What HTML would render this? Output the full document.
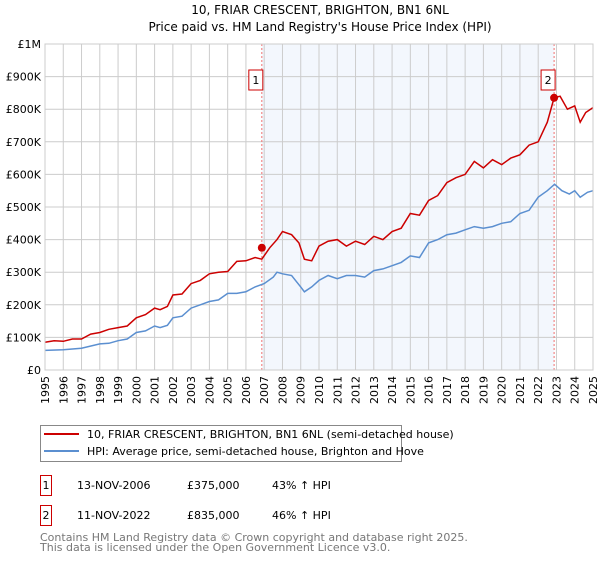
<!DOCTYPE html>
<html><head><meta charset="utf-8"><style>
body{margin:0;background:#fff;font-family:"DejaVu Sans","Liberation Sans",sans-serif;}
svg text{font-family:"DejaVu Sans","Liberation Sans",sans-serif;}
</style></head><body>
<svg id="c" width="600" height="560">
<text x="320" y="14" text-anchor="middle" font-size="12">10, FRIAR CRESCENT, BRIGHTON, BN1 6NL</text>
<text x="320" y="31" text-anchor="middle" font-size="12">Price paid vs. HM Land Registry's House Price Index (HPI)</text>
<g id="plot"></g>
<rect x="40.5" y="425.5" width="361" height="36" fill="none" stroke="#888"/>
<line x1="44" y1="434" x2="79" y2="434" stroke="#cc0000" stroke-width="2"/>
<text x="87" y="438" font-size="11">10, FRIAR CRESCENT, BRIGHTON, BN1 6NL (semi-detached house)</text>
<line x1="44" y1="451" x2="79" y2="451" stroke="#5b8fd0" stroke-width="2"/>
<text x="87" y="455" font-size="11">HPI: Average price, semi-detached house, Brighton and Hove</text>
<g font-size="11">
<rect x="40.5" y="475.5" width="11" height="20" fill="#fff" stroke="#cc0000"/>
<text x="46" y="489" text-anchor="middle">1</text>
<text x="77" y="489">13-NOV-2006</text><text x="187" y="489">£375,000</text><text x="272" y="489">43% ↑ HPI</text>
<rect x="40.5" y="505.5" width="11" height="20" fill="#fff" stroke="#cc0000"/>
<text x="46" y="519" text-anchor="middle">2</text>
<text x="77" y="519">11-NOV-2022</text><text x="187" y="519">£835,000</text><text x="272" y="519">46% ↑ HPI</text>
</g>
<text x="40" y="541" font-size="11" fill="#777">Contains HM Land Registry data © Crown copyright and database right 2025.</text>
<text x="40" y="551" font-size="11" fill="#777">This data is licensed under the Open Government Licence v3.0.</text>
</svg>
<script>
const yTicks=[0,100,200,300,400,500,600,700,800,900,1000];
const yTickLabels=["£0","£100K","£200K","£300K","£400K","£500K","£600K","£700K","£800K","£900K","£1M"];
const years=[1995,1996,1997,1998,1999,2000,2001,2002,2003,2004,2005,2006,2007,2008,2009,2010,2011,2012,2013,2014,2015,2016,2017,2018,2019,2020,2021,2022,2023,2024,2025];
const redX=[1995,1995.5,1996,1996.5,1997,1997.5,1998,1998.5,1999,1999.5,2000,2000.5,2001,2001.3,2001.7,2002,2002.5,2003,2003.5,2004,2004.5,2005,2005.5,2006,2006.5,2006.87,2007.3,2007.7,2008,2008.5,2008.9,2009.2,2009.6,2010,2010.5,2011,2011.5,2012,2012.5,2013,2013.5,2014,2014.5,2015,2015.5,2016,2016.5,2017,2017.5,2018,2018.5,2019,2019.5,2020,2020.5,2021,2021.5,2022,2022.5,2022.87,2023.2,2023.6,2024,2024.3,2024.6,2025];
const redY=[85,90,88,95,95,110,115,125,130,135,160,170,190,185,195,230,233,265,275,295,300,302,333,335,345,340,375,400,425,415,390,340,335,380,395,400,380,395,385,410,400,425,435,480,475,520,535,575,590,600,640,620,645,630,650,660,690,700,760,835,840,800,810,760,790,805];
const hpiX=[1995,1996,1997,1998,1998.5,1999,1999.5,2000,2000.5,2001,2001.3,2001.7,2002,2002.5,2003,2003.5,2004,2004.5,2005,2005.5,2006,2006.5,2007,2007.5,2007.7,2008,2008.5,2009,2009.2,2009.6,2010,2010.5,2011,2011.5,2012,2012.5,2013,2013.5,2014,2014.5,2015,2015.5,2016,2016.5,2017,2017.5,2018,2018.5,2019,2019.5,2020,2020.5,2021,2021.5,2022,2022.5,2022.9,2023.3,2023.7,2024,2024.3,2024.7,2025];
const hpiY=[60,62,67,80,82,90,95,115,120,135,130,137,160,165,190,200,210,215,235,235,240,255,265,285,300,295,290,255,240,255,275,290,280,290,290,285,305,310,320,330,350,345,390,400,415,420,430,440,435,440,450,455,480,490,530,550,570,550,540,550,530,545,550];
const sales=[[2006.87,375],[2022.87,835]];
const X0=45,X1=593,Y0=370,Y1=44;
const xs=v=>X0+(v-1995)/30*(X1-X0), ys=v=>Y0-v/1000*(Y0-Y1);
const g=document.getElementById('plot'),NS='http://www.w3.org/2000/svg';
function mk(t,a,p){const e=document.createElementNS(NS,t);for(const k in a)e.setAttribute(k,a[k]);(p||g).appendChild(e);return e;}
let e=mk('rect',{x:xs(sales[0][0]),y:Y1,width:xs(sales[1][0])-xs(sales[0][0]),height:Y0-Y1,fill:'#eef3fc',opacity:0.7});


years.forEach(y=>{let l=mk('line',{x1:xs(y),x2:xs(y),y1:Y1,y2:Y0,stroke:'#ccc'});


let t=mk('text',{x:0,y:0,'font-size':11,'text-anchor':'end',transform:`translate(${xs(y)+4},${Y0+6}) rotate(-90)`});t.textContent=y;

});
yTicks.forEach((v,i)=>{let l=mk('line',{x1:X0,x2:X1,y1:ys(v),y2:ys(v),stroke:'#ccc'});


let t=mk('text',{x:X0-4,y:ys(v)+4,'font-size':11,'text-anchor':'end'});t.textContent=yTickLabels[i];

});
sales.forEach((s,i)=>{let l=mk('line',{x1:xs(s[0]),x2:xs(s[0]),y1:Y1,y2:Y0,stroke:'#f07070','stroke-dasharray':'2,2'});

});
function path(xa,ya,col,name){let d=xa.map((x,i)=>(i?'L':'M')+xs(x).toFixed(1)+','+ys(ya[i]).toFixed(1)).join('');
let p=mk('path',{d:d,fill:'none',stroke:col,'stroke-width':1.5});

}
path(hpiX,hpiY,'#5b8fd0','hpi-line');
path(redX,redY,'#cc0000','property-price-line');
sales.forEach((s,i)=>{let c=mk('circle',{cx:xs(s[0]),cy:ys(s[1]),r:4,fill:'#cc0000'});


let bx=xs(s[0])-13;
let r=mk('rect',{x:bx,y:70,width:14,height:20,fill:'#fff',stroke:'#cc0000'});


let t=mk('text',{x:bx+7,y:84,'font-size':11,'text-anchor':'middle'});t.textContent=i+1;

});
let b=mk('rect',{x:X0,y:Y1,width:X1-X0,height:Y0-Y1,fill:'none',stroke:'#ccc'});


</script>
</body></html>
